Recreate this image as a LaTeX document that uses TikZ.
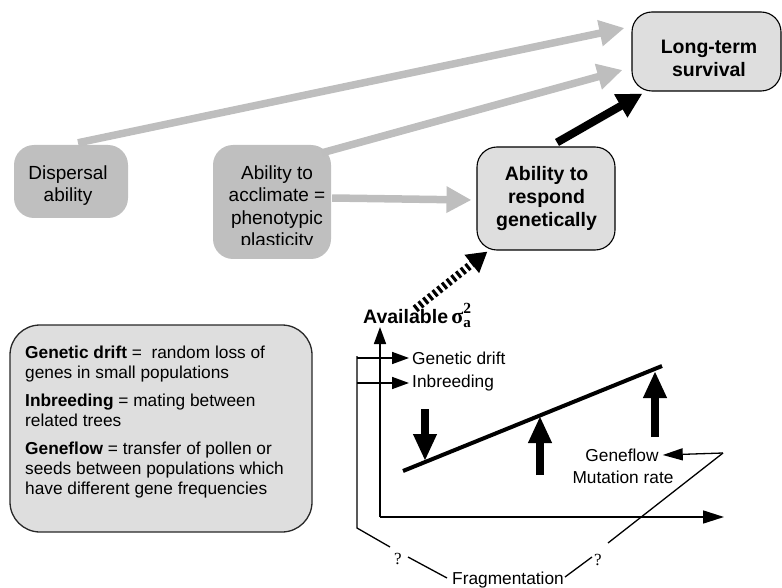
\documentclass[tikz,border=0pt]{standalone}
\usepackage{fontspec}
\setmainfont{Liberation Sans}
\newfontfamily\serifgr{Liberation Serif}
\usetikzlibrary{arrows.meta}

\definecolor{boxgray}{RGB}{191,191,191}
\definecolor{lightfill}{RGB}{222,222,222}
\definecolor{arrowgray}{RGB}{190,190,190}
\definecolor{edgegray}{RGB}{40,40,40}

\begin{document}
\begin{tikzpicture}[x=1pt,y=-1pt,
  darkbox/.style={fill=boxgray, rounded corners=20pt, inner sep=0pt},
  lightbox/.style={fill=lightfill, draw=black, line width=1.1pt, rounded corners=20pt, inner sep=0pt},
  boxlabel/.style={align=center, inner sep=0pt, font=\fontsize{19}{22.5}\selectfont},
  boldlabel/.style={align=center, inner sep=0pt, font=\bfseries\fontsize{19.5}{23.3}\selectfont},
  grayarrow/.style={draw=arrowgray, line width=7.5pt, -{Triangle[length=25pt,width=25pt]}},
  blackarrow/.style={draw=black, line width=8pt, -{Triangle[length=25pt,width=25pt]}},
  dotarrow/.style={draw=black, line width=8pt, dash pattern=on 3pt off 3pt, -{Triangle[length=20pt,width=22pt]}},
  thinarrow/.style={draw=black, line width=1.6pt, -{Triangle[length=17pt,width=12pt]}},
  fatarrow/.style={draw=black, line width=8pt, -{Triangle[length=27pt,width=22pt]}},
  thinline/.style={draw=black, line width=1.3pt},
  smalltext/.style={inner sep=0pt, font=\fontsize{17.3}{20}\selectfont},
  qmark/.style={inner sep=0pt, font=\serifgr\fontsize{17}{20}\selectfont}
]
\useasboundingbox (0,0) rectangle (782,588);

% --- boxes of the upper part ---
\node[lightbox, minimum width=149pt, minimum height=79pt] (surv) at (706.5,51.5) {};
\node[boldlabel] (survtext) at (709,58.5) {Long-term\\survival};

\node[lightbox, minimum width=138pt, minimum height=103pt] (resp) at (546,198.5) {};
\node[boldlabel] (resptext) at (546.5,198.5) {Ability to\\respond\\genetically};

\node[darkbox, minimum width=114pt, minimum height=73pt] (disp) at (71,181.5) {};
\node[boxlabel] (disptext) at (68,185.5) {Dispersal\\ability};

\node[darkbox, minimum width=118pt, minimum height=114pt] (accl) at (272,202) {};
\begin{scope}
  \clip (213,140) rectangle (335,245);
  \node[boxlabel] (accltext) at (277,208) {Ability to\\acclimate =\\phenotypic\\plasticity};
\end{scope}

% --- arrows between the boxes ---
\draw[grayarrow] ([xshift=7pt,yshift=2pt]disp.north) -- ([xshift=-7pt,yshift=23.5pt]surv.west);
\draw[grayarrow] ([xshift=-9pt,yshift=-8pt]accl.north east) -- ([xshift=-9pt,yshift=-18.5pt]surv.west);
\draw[grayarrow] ([xshift=1pt,yshift=4pt]accl.east) -- ([xshift=-5pt,yshift=-1.5pt]resp.west);
\draw[blackarrow] ([xshift=11pt,yshift=4pt]resp.north) -- ([xshift=11pt,yshift=-2pt]surv.south west);

% --- available variance and its graph ---
\node[anchor=base west, inner sep=0pt, font=\bfseries\fontsize{19.5}{22}\selectfont] (avail) at (363,323)
  {Available\,{\serifgr\fontsize{22}{22}\selectfont σ}\rlap{\raisebox{-5pt}{\serifgr\bfseries\fontsize{15}{15}\selectfont a}}\raisebox{9.5pt}{\serifgr\bfseries\fontsize{15.5}{15.5}\selectfont 2}};
\draw[dotarrow] ([xshift=-2pt,yshift=-6pt]avail.north) -- ([xshift=11pt,yshift=-1pt]resp.south west);

\coordinate (origin) at (380,517);
\coordinate (ytip) at (380,327);
\coordinate (xtip) at (724,517);
\coordinate (otop) at (357,356);
\coordinate (obot) at (357,528);
\coordinate (driftA) at (357,358);
\coordinate (driftB) at (409,358);
\coordinate (inbrA) at (357,383);
\coordinate (inbrB) at (409,383);

\draw[thinarrow] (origin) -- (ytip);
\draw[thinarrow, -{Triangle[length=21pt,width=13pt]}] (origin) -- (xtip);
\draw[thinarrow] (driftA) -- (driftB);
\draw[thinarrow] (inbrA) -- (inbrB);
\node[smalltext, anchor=west] (drifttext) at (412,358) {Genetic drift};
\node[smalltext, anchor=west] (inbrtext) at (412,383) {Inbreeding};

% sloping trend line and the forces acting on it
\coordinate (slopeA) at (403,471);
\coordinate (slopeB) at (662,366);
\draw[draw=black, line width=4pt] (slopeA) -- (slopeB);
\coordinate (downA) at (425,409);
\coordinate (downB) at (425,461);
\coordinate (upmA) at (540,475);
\coordinate (upmB) at (540,416);
\coordinate (uprA) at (655,437);
\coordinate (uprB) at (655,371);
\draw[fatarrow] (downA) -- (downB);
\draw[fatarrow] (upmA) -- (upmB);
\draw[fatarrow] (uprA) -- (uprB);

\node[smalltext] (geneflow) at (622,455) {Geneflow};
\node[smalltext] (mutation) at (623,477) {Mutation rate};

% fragmentation links
\node[smalltext] (frag) at (508,580) {Fragmentation};
\node[qmark] (qleft) at (398,559) {?};
\node[qmark] (qright) at (598,560) {?};
\coordinate (fragL) at (390,547);
\coordinate (turn) at (723,453);
\draw[thinline] (otop) -- (obot) -- (fragL);
\draw[thinline] (408,557) -- (447,578);
\draw[thinline] (565,577) -- (592,557);
\draw[thinline] (608,543) -- (turn);
\draw[thinline, -{Triangle[length=20pt,width=12pt]}] (turn) -- ([xshift=4pt]geneflow.east);

% --- definitions ---
\draw[fill=lightfill, draw=edgegray, line width=1.3pt, rounded corners=30pt] (10,325) rectangle (312,532);
\node[smalltext, anchor=base west] (l1) at (25,358) {\textbf{Genetic drift} = \ random loss of};
\node[smalltext, anchor=base west] (l2) at (25,378) {genes in small populations};
\node[smalltext, anchor=base west] (l3) at (25,406) {\textbf{Inbreeding} = mating between};
\node[smalltext, anchor=base west] (l4) at (25,426) {related trees};
\node[smalltext, anchor=base west] (l5) at (25,454) {\textbf{Geneflow} = transfer of pollen or};
\node[smalltext, anchor=base west] (l6) at (25,474) {seeds between populations which};
\node[smalltext, anchor=base west] (l7) at (25,494) {have different gene frequencies};
\end{tikzpicture}
\end{document}
